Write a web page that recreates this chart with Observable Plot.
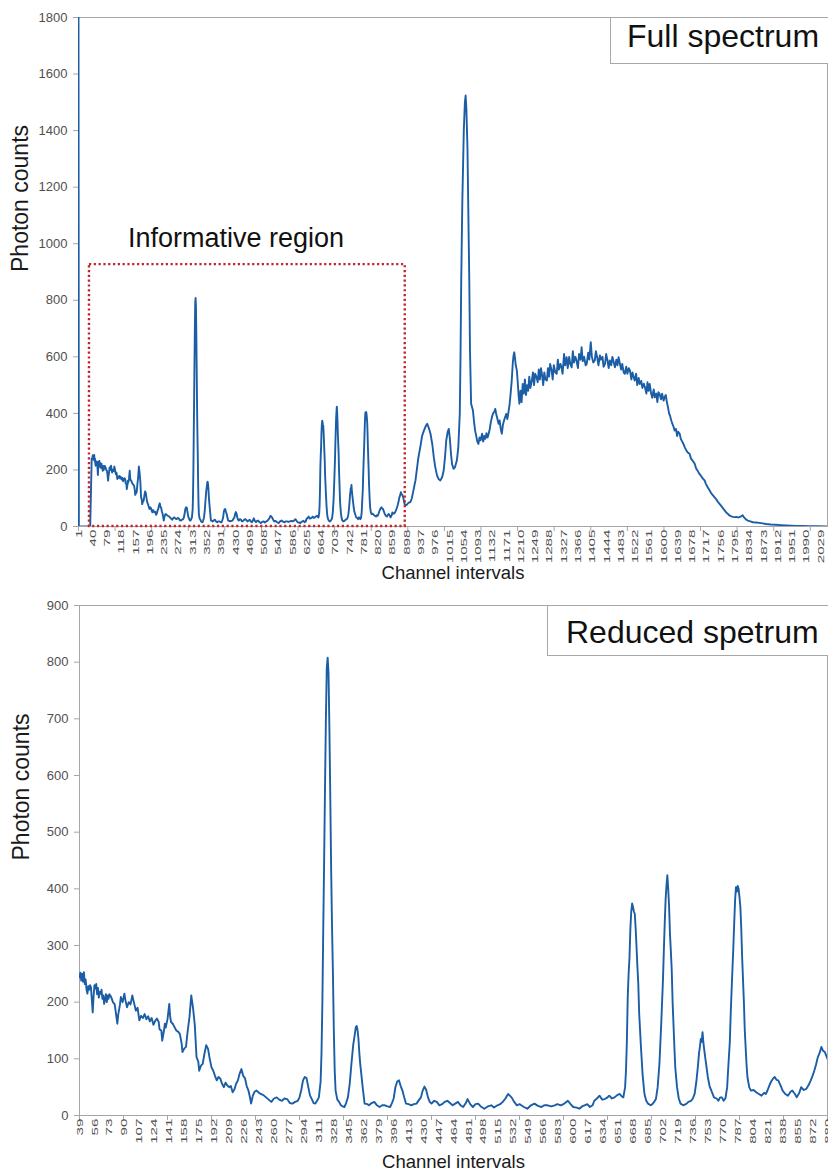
<!DOCTYPE html>
<html>
<head>
<meta charset="utf-8">
<script src="https://cdn.jsdelivr.net/npm/d3@7"></script>
<script src="https://cdn.jsdelivr.net/npm/@observablehq/plot@0.6"></script>
<style>
  html, body { margin: 0; padding: 0; background: #fff; }
  #figure { position: relative; width: 828px; height: 1172px; overflow: hidden;
            font-family: 'Liberation Sans', Arial, Helvetica, sans-serif; color: #111; }
  #figure svg { display: block; }
  .tag { position: absolute; box-sizing: border-box; background: #fff; border: 1px solid #a8a8a8;
         font-size: 32px; line-height: 32px; white-space: nowrap; }
  .note { position: absolute; font-size: 27px; line-height: 27px; white-space: nowrap; }
</style>
</head>
<body>
<div id="figure"></div>
<script>
// Channel 1 overflow and the dead channels before the informative region
const leadIn = [[1, 1800], [2, 0], [33, 0], [35, 120], [37, 238]];

// Channels 39–889: the informative region (shown on its own in the lower panel)
const reducedSpectrum = [
  [39,244],[40,252],[41,238],[42,250],[43,236],[44,253],[45,232],[46,240],[47,222],[48,215],
  [49,228],[50,222],[51,230],[52,226],[53,205],[54,182],[55,210],[56,230],[57,224],[58,232],
  [59,214],[60,225],[61,208],[62,218],[63,215],[64,222],[65,206],[66,212],[67,197],[68,205],
  [69,214],[70,200],[71,212],[72,206],[73,214],[75,209],[77,200],[79,196],[80,185],[82,162],
  [83,178],[85,196],[86,209],[88,200],[90,215],[91,205],[93,191],[95,200],[97,196],[99,212],
  [100,205],[102,192],[103,185],[105,190],[107,168],[109,176],[111,172],[113,179],[115,170],[117,175],
  [119,166],[121,172],[123,160],[125,167],[127,171],[129,165],[130,152],[132,150],[133,132],[135,150],
  [136,162],[137,155],[139,170],[141,197],[142,175],[143,165],[145,162],[147,156],[149,150],[151,148],
  [153,144],[155,128],[156,112],[158,118],[160,121],[162,150],[164,174],[166,212],[168,190],[170,160],
  [172,103],[174,95],[175,79],[177,88],[179,91],[181,109],[183,124],[185,118],[187,100],[189,85],
  [191,79],[193,70],[195,62],[197,68],[199,65],[201,56],[203,50],[205,58],[207,53],[209,50],
  [211,52],[213,41],[215,46],[217,56],[219,62],[221,74],[223,82],[225,70],[227,66],[229,52],
  [231,44],[233,30],[234,21],[236,35],[238,42],[240,44],[243,40],[245,38],[248,36],[251,32],
  [254,28],[257,24],[260,30],[263,32],[266,28],[269,26],[272,30],[275,29],[278,22],[281,21],
  [284,24],[287,26],[289,32],[291,45],[293,62],[295,68],[297,66],[299,50],[301,35],[303,29],
  [305,22],[307,21],[309,26],[311,32],[313,60],[314,110],[315,200],[316,330],[317,450],[318,580],
  [319,700],[320,790],[321,808],[322,780],[323,680],[324,560],[325,430],[326,330],[327,250],[328,150],
  [329,80],[330,44],[332,28],[334,24],[336,18],[338,16],[340,15],[342,22],[344,32],[346,55],
  [348,91],[350,124],[352,145],[353,156],[354,158],[355,150],[356,135],[357,110],[358,91],[360,62],
  [361,47],[363,21],[366,20],[368,18],[371,22],[374,24],[377,18],[380,15],[383,18],[386,18],
  [389,16],[392,15],[394,22],[396,30],[398,50],[400,60],[402,62],[404,52],[406,44],[408,32],
  [410,21],[413,20],[416,18],[419,20],[422,21],[425,28],[427,32],[429,44],[431,51],[433,45],
  [435,32],[437,24],[439,21],[442,26],[445,24],[448,18],[451,20],[454,24],[457,26],[460,22],
  [463,18],[466,21],[469,24],[472,18],[475,15],[478,22],[480,29],[483,20],[486,15],[489,20],
  [492,21],[495,16],[499,12],[503,16],[507,18],[510,14],[514,18],[517,20],[520,24],[523,30],
  [526,38],[528,35],[530,32],[533,24],[536,18],[539,20],[541,18],[544,15],[548,12],[552,18],
  [556,21],[560,17],[564,15],[567,18],[571,18],[575,16],[579,18],[582,20],[586,18],[590,21],
  [594,26],[597,20],[600,15],[604,14],[607,12],[610,16],[613,18],[616,20],[619,15],[622,18],
  [624,26],[627,30],[630,35],[633,28],[636,29],[639,32],[641,35],[644,30],[647,32],[650,36],
  [653,38],[655,34],[657,32],[659,50],[660,79],[661,130],[662,209],[663,250],[664,279],[665,330],
  [666,360],[667,374],[668,368],[669,360],[670,356],[671,330],[672,297],[673,262],[674,232],[675,180],
  [677,121],[679,70],[681,38],[683,26],[685,21],[688,18],[690,20],[692,24],[694,29],[696,50],
  [698,91],[700,160],[702,238],[703,290],[704,338],[705,380],[706,405],[707,424],[708,400],[709,368],
  [710,320],[711,290],[712,256],[713,200],[715,121],[716,85],[718,50],[720,30],[722,21],[725,18],
  [728,20],[731,24],[734,26],[736,30],[738,38],[740,60],[742,91],[743,110],[744,121],[745,135],
  [746,130],[747,147],[748,128],[749,115],[750,103],[752,80],[753,68],[755,52],[757,44],[760,32],
  [763,30],[765,26],[767,32],[769,32],[771,26],[773,30],[775,50],[776,79],[778,130],[779,179],
  [780,220],[782,297],[783,340],[784,380],[785,403],[786,395],[787,405],[788,400],[789,385],[790,368],
  [791,330],[792,279],[794,200],[795,150],[797,90],[798,68],[800,50],[802,44],[805,45],[808,41],
  [811,38],[814,35],[817,40],[819,38],[821,45],[823,53],[825,60],[827,65],[829,68],[831,63],
  [833,62],[836,52],[838,44],[841,38],[844,35],[847,42],[849,44],[852,38],[854,32],[857,40],
  [859,50],[862,45],[865,47],[868,55],[870,62],[872,70],[874,79],[876,90],[878,103],[880,110],
  [882,121],[884,114],[886,112],[889,100]
];

// Channels above the informative region (upper panel only)
const upperSpectrum = [
  [892,80],[895,74],[899,78],[903,84],[908,86],[912,100],[916,125],[919,145],[922,163],[926,205],
  [930,245],[935,280],[940,320],[945,339],[950,355],[954,363],[958,350],[963,328],[968,290],[972,245],
  [976,210],[981,180],[985,168],[990,163],[995,175],[999,198],[1003,250],[1006,304],[1010,335],[1013,345],
  [1016,310],[1019,257],[1022,220],[1026,204],[1030,210],[1035,233],[1039,280],[1043,398],[1045,600],[1047,870],
  [1050,1150],[1054,1400],[1057,1500],[1059,1524],[1061,1480],[1064,1341],[1066,1150],[1069,870],[1071,620],[1074,434],
  [1077,420],[1079,410],[1082,370],[1085,339],[1088,320],[1091,300],[1094,292],[1097,315],[1100,305],[1104,328],
  [1107,300],[1110,320],[1113,310],[1116,330],[1119,315],[1122,328],[1125,345],[1128,370],[1131,387],[1134,400],
  [1137,405],[1140,416],[1143,395],[1146,380],[1149,363],[1152,375],[1155,345],[1158,328],[1161,360],[1164,375],
  [1167,387],[1170,398],[1173,380],[1176,404],[1179,430],[1182,470],[1185,516],[1188,580],[1190,605],[1192,616],
  [1194,595],[1196,570],[1199,552],[1202,500],[1204,460],[1206,434],[1209,480],[1212,440],[1215,504],[1218,470],
  [1221,520],[1224,465],[1227,500],[1230,480],[1233,530],[1236,490],[1240,516],[1243,545],[1246,500],[1249,540],
  [1253,528],[1256,510],[1259,555],[1262,520],[1265,560],[1268,535],[1271,500],[1274,545],[1277,520],[1281,516],
  [1284,560],[1287,530],[1290,575],[1294,552],[1297,520],[1300,570],[1304,545],[1308,540],[1311,590],[1314,555],
  [1318,575],[1321,563],[1324,540],[1328,610],[1331,570],[1335,599],[1338,560],[1342,600],[1345,575],[1349,563],
  [1352,620],[1355,580],[1359,600],[1362,587],[1366,560],[1369,610],[1373,590],[1376,634],[1379,585],[1383,600],
  [1387,570],[1390,575],[1394,615],[1397,590],[1401,652],[1404,600],[1408,580],[1412,587],[1415,620],[1419,595],
  [1422,570],[1426,605],[1429,590],[1433,600],[1436,565],[1440,575],[1443,610],[1447,585],[1450,560],[1453,587],
  [1457,570],[1460,600],[1464,580],[1467,563],[1471,590],[1474,570],[1477,599],[1480,580],[1484,555],[1487,575],
  [1491,545],[1494,540],[1498,565],[1501,540],[1505,560],[1508,552],[1512,520],[1515,545],[1518,530],[1521,516],
  [1525,540],[1528,500],[1532,525],[1535,504],[1539,515],[1542,490],[1546,505],[1549,493],[1553,470],[1556,510],
  [1559,480],[1562,504],[1566,470],[1569,455],[1573,485],[1576,457],[1580,470],[1583,440],[1586,475],[1589,469],
  [1593,450],[1596,470],[1600,445],[1603,457],[1606,465],[1609,440],[1612,422],[1615,400],[1618,390],[1621,375],
  [1625,360],[1628,350],[1630,339],[1634,345],[1637,320],[1640,335],[1644,328],[1647,310],[1651,300],[1655,290],
  [1658,280],[1662,270],[1666,262],[1671,257],[1675,240],[1680,232],[1685,222],[1689,205],[1694,195],[1698,186],
  [1703,178],[1707,170],[1712,163],[1716,150],[1721,138],[1726,127],[1730,118],[1735,110],[1739,104],[1744,96],
  [1748,88],[1753,80],[1758,72],[1762,65],[1767,57],[1771,50],[1776,44],[1780,39],[1785,36],[1790,34],
  [1794,33],[1799,34],[1803,32],[1807,33],[1812,36],[1816,40],[1820,32],[1825,25],[1830,21],[1837,18],
  [1844,15],[1853,14],[1862,13],[1871,11],[1880,9],[1893,7],[1907,6],[1921,5],[1935,4],[1948,3],
  [1962,2],[1980,2],[1998,1],[2020,1],[2048,0]
];

// Dotted box marking the informative region on the full spectrum
const informativeRegion = [{x1: 31, x2: 894, y1: 0, y2: 926}];

// Axis ticks
const fullYTicks = [0, 200, 400, 600, 800, 1000, 1200, 1400, 1600, 1800];
const reducedYTicks = [0, 100, 200, 300, 400, 500, 600, 700, 800, 900];
const fullXLabels = d3.range(1, 2048, 39);      // 1, 40, 79, … 2029
const fullXTickMarks = d3.range(1, 2049, 100);  // 1, 101, … 2001
const reducedXLabels = d3.range(39, 890, 17);   // 39, 56, 73, … 889
const reducedXTickMarks = d3.range(39, 890, 50);

const BLUE = "#1b5ea6";
const GRID = "#a6a6a6";
const FONT = "'Liberation Sans', Arial, Helvetica, sans-serif";
const plain = (d) => String(d);

function toRows(pairs) { return pairs.map(([channel, count]) => ({channel, count})); }

function spectrumChart({rows, xDomain, yDomain, yTicks, xLabels, xTickMarks, height, marginTop, marginBottom, marginLeft, extra = []}) {
  const svg = Plot.plot({
    width: 828,
    height,
    marginTop,
    marginRight: 1,
    marginBottom,
    marginLeft,
    style: {fontFamily: FONT, background: "#fff", overflow: "visible"},
    x: {domain: xDomain},
    y: {domain: yDomain},
    marks: [
      Plot.frame({stroke: GRID}),
      Plot.axisY(yTicks, {tickSize: 5, tickPadding: 6, fontSize: 13, tickFormat: plain, stroke: GRID, fill: "#505050", label: null}),
      Plot.axisX(xTickMarks, {tickSize: 5, tickFormat: () => "", stroke: GRID, label: null}),
      Plot.axisX(xLabels, {tickSize: 0, tickPadding: 3, tickRotate: -90, fontSize: 9.5, tickFormat: plain, fill: "#505050", label: null}),
      Plot.line(rows, {x: "channel", y: "count", stroke: BLUE, strokeWidth: 1.9, strokeLinejoin: "round", clip: true}),
      ...extra,
      Plot.text(["Photon counts"], {frameAnchor: "left", rotate: -90, dx: -58, fontSize: 23, fill: "#1a1a1a"}),
      Plot.text(["Channel intervals"], {frameAnchor: "bottom", dy: 52, fontSize: 18.5, fill: "#1a1a1a"})
    ]
  });
  // Tall, narrow channel labels along the x axis
  svg.querySelectorAll('g[aria-label="x-axis tick label"] text').forEach((t) => {
    const tr = t.getAttribute("transform");
    if (tr && tr.includes("rotate")) t.setAttribute("transform", tr + " scale(1.6,1)");
  });
  return svg;
}

const figure = document.getElementById("figure");

const fullChart = spectrumChart({
  rows: toRows([...leadIn, ...reducedSpectrum, ...upperSpectrum]),
  xDomain: [1, 2048],
  yDomain: [0, 1800],
  yTicks: fullYTicks,
  xLabels: fullXLabels,
  xTickMarks: fullXTickMarks,
  height: 592,
  marginTop: 17,
  marginBottom: 66,
  marginLeft: 78,
  extra: [
    Plot.rect(informativeRegion, {x1: "x1", x2: "x2", y1: "y1", y2: "y2", fill: "none",
      stroke: "#c0262d", strokeWidth: 2.4, strokeDasharray: "2.2 2.6"})
  ]
});
figure.appendChild(fullChart);

const reducedChart = spectrumChart({
  rows: toRows(reducedSpectrum),
  xDomain: [39, 889],
  yDomain: [0, 900],
  yTicks: reducedYTicks,
  xLabels: reducedXLabels,
  xTickMarks: reducedXTickMarks,
  height: 580,
  marginTop: 13,
  marginBottom: 57,
  marginLeft: 79
});
figure.appendChild(reducedChart);

// Panel tags and the region annotation
function addLabel(cls, text, css) {
  const el = document.createElement("div");
  el.className = cls;
  el.textContent = text;
  Object.assign(el.style, css);
  figure.appendChild(el);
}
addLabel("tag", "Full spectrum", {left: "610px", top: "17px", width: "240px", height: "47px", paddingLeft: "16px", paddingTop: "2px"});
addLabel("tag", "Reduced spetrum", {left: "547px", top: "605px", width: "300px", height: "51px", paddingLeft: "18px", paddingTop: "10px"});
addLabel("note", "Informative region", {left: "128px", top: "225px"});
</script>
</body>
</html>
